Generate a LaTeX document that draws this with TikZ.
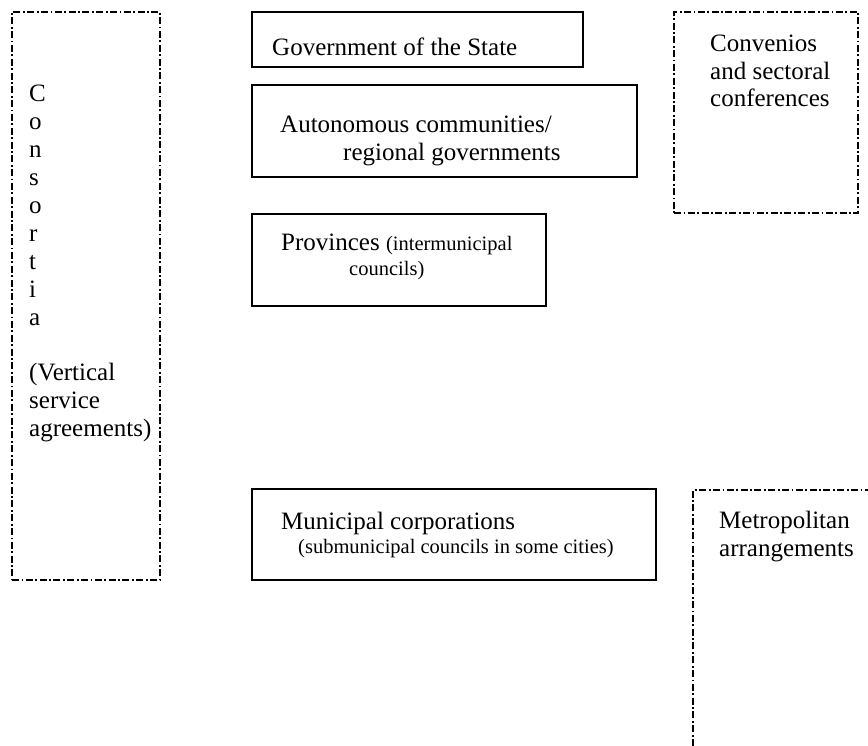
\documentclass[tikz,border=0pt]{standalone}
\usepackage{fontspec}
\setmainfont{Liberation Serif}
\usetikzlibrary{fit}
\begin{document}
\begin{tikzpicture}[x=1pt,y=-1pt,
  solidbox/.style={draw, line width=1.4pt, inner sep=0pt, rectangle},
  dashbox/.style={draw, line width=1.8pt, inner sep=0pt, rectangle,
                  dash pattern=on 7pt off 2.5pt on 1.8pt off 2.5pt},
  dashline/.style={line width=1.8pt, dash pattern=on 7pt off 2.5pt on 1.8pt off 2.5pt},
  big/.style={font=\fontsize{25}{28}\selectfont, inner sep=0pt, anchor=base west},
  small/.style={font=\fontsize{20.5}{23}\selectfont, inner sep=0pt, anchor=base west}]
\useasboundingbox (0,0) rectangle (868,746);

% outlines of the tiers of government
\node[solidbox, fit={(252,12) (583,67)}]   (gov)  {};
\node[solidbox, fit={(252,85) (637,177)}]  (auto) {};
\node[solidbox, fit={(252,214) (546,306)}] (prov) {};
\node[solidbox, fit={(252,489) (656,580)}] (muni) {};

% dash-dotted frames of the cooperation arrangements
\node[dashbox, fit={(12,12) (160,580)}]  (cons) {};
\node[dashbox, fit={(674,12) (858,213)}] (conv) {};
\coordinate (metroA) at (693,746);
\coordinate (metroB) at (693,490);
\coordinate (metroC) at (868,490);
\draw[dashline] (metroA) -- (metroB) -- (metroC);

% labels
\node[big] (govt) at (272,56) {Government of the State};
\node[big] (autot1) at (280,133) {Autonomous communities/};
\node[big] (autot2) at (343,161) {regional governments};
\node[big] (provt1) at (281,251) {Provinces {\fontsize{20.5}{23}\selectfont(intermunicipal}};
\node[small] (provt2) at (349,276) {councils)};
\node[big] (munit1) at (281,529) {Municipal corporations};
\node[small] (munit2) at (298,553) {(submunicipal councils in some cities)};
\node[big] (convt1) at (710,52) {Convenios};
\node[big] (convt2) at (710,80) {and sectoral};
\node[big] (convt3) at (710,107) {conferences};
\node[big] (metrot1) at (719,528) {Metropolitan};
\node[big] (metrot2) at (719,556) {arrangements};

\foreach \ch [count=\i from 0] in {C,o,n,s,o,r,t,i,a}
  \node[big] (consl\i) at (29,102+27.9*\i) {\ch};
\node[big] (const1) at (29,380) {(Vertical};
\node[big] (const2) at (29,408) {service};
\node[big] (const3) at (29,436) {agreements)};
\end{tikzpicture}
\end{document}
